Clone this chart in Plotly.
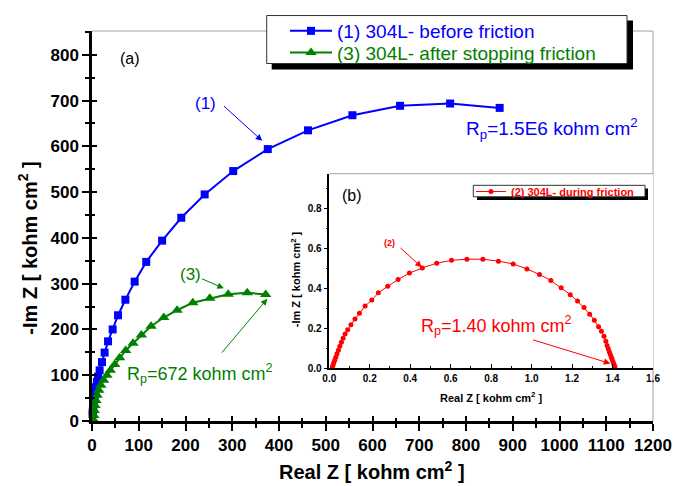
import plotly.graph_objects as go

# ---- data ----
s1_name = "(1) 304L- before friction"
s1_x = [1.3, 1.7, 2.2, 2.8, 3.5, 4.5, 5.5, 7, 8.5, 10.5, 12.9, 16.3, 21.4, 27, 34.3, 44.2, 55.7, 71.4,
        91.3, 116, 150, 191, 241, 302, 376, 462, 557, 659, 766, 872]
s1_y = [16, 21, 27, 33, 40, 47, 55, 64, 74, 85, 97, 110.7, 128.6, 149.5, 174, 200, 231, 265,
        304.5, 347.6, 394, 444, 495, 546, 594, 635, 668, 688.6, 693.6, 684]

s3_name = "(3) 304L- after stopping friction"
s3_x = [3.5, 4, 5, 6.5, 8.5, 11, 14.5, 19, 25, 32, 39.2, 48.5, 59.2, 72, 87.8, 105.6, 126.4, 153.5,
        182, 215.6, 252, 291.4, 332, 371.5]
s3_y = [2, 12, 23, 34, 45, 56, 67, 78, 89, 100, 110.7, 123.6, 138, 154, 170, 188, 207, 226,
        242, 258.5, 268, 277, 280, 276.5]

s2_name = "(2) 304L- during friction"
s2_x = [0.015, 0.018, 0.022, 0.027, 0.032, 0.038, 0.045, 0.052, 0.06, 0.068, 0.078, 0.091, 0.107,
        0.127, 0.149, 0.177, 0.21, 0.2425, 0.289, 0.340, 0.396, 0.460, 0.531, 0.604, 0.680, 0.759,
        0.836, 0.909, 0.977, 1.039, 1.095, 1.146, 1.191, 1.227, 1.259, 1.287, 1.310, 1.331, 1.345,
        1.358, 1.367, 1.373, 1.379, 1.384, 1.389, 1.394, 1.398, 1.402, 1.406, 1.409, 1.412]
s2_y = [0.005, 0.015, 0.027, 0.04, 0.055, 0.072, 0.09, 0.11, 0.13, 0.15, 0.171, 0.193, 0.218,
        0.246, 0.275, 0.312, 0.342, 0.378, 0.411, 0.445, 0.477, 0.503, 0.527, 0.541, 0.547, 0.547,
        0.537, 0.523, 0.498, 0.470, 0.440, 0.404, 0.369, 0.337, 0.304, 0.271, 0.240, 0.208, 0.185,
        0.16, 0.135, 0.113, 0.097, 0.082, 0.068, 0.055, 0.043, 0.032, 0.022, 0.013, 0.005]

main_x_range = [0, 1200]
main_y_range = [0, 852]
inset_x_range = [0, 1.6]
inset_y_range = [0, 0.976]

FONT = "Arial, Liberation Sans, sans-serif"
BLUE = "#0000FF"
GREEN = "#008000"
RED = "#FF0000"

fig = go.Figure()
fig.add_trace(go.Scatter(x=s1_x, y=s1_y, name=s1_name, mode="lines+markers",
                         line=dict(color=BLUE, width=2),
                         marker=dict(symbol="square", size=8, color=BLUE),
                         legend="legend", cliponaxis=False))
fig.add_trace(go.Scatter(x=s3_x, y=s3_y, name=s3_name, mode="lines+markers",
                         line=dict(color=GREEN, width=2),
                         marker=dict(symbol="triangle-up", size=10, color=GREEN),
                         legend="legend3", cliponaxis=False))
fig.add_trace(go.Scatter(x=s2_x, y=s2_y, name=s2_name, mode="lines+markers",
                         line=dict(color=RED, width=1),
                         marker=dict(symbol="circle", size=5, color=RED),
                         xaxis="x2", yaxis="y2", legend="legend2", cliponaxis=False))
fig.add_trace(go.Scatter(x=[], y=[], xaxis="x3", yaxis="y3", showlegend=False, hoverinfo="skip"))

tickfont_main = dict(family=FONT, size=17, color="black", weight="bold")
tickfont_inset = dict(family=FONT, size=10, color="black", weight="bold")


def px2paper(px, py):
    return (px - 92) / 561, (421 - py) / 396


fig.update_layout(
    width=689, height=486,
    margin=dict(l=92, r=36, t=25, b=65),
    paper_bgcolor="white", plot_bgcolor="white",
    font=dict(family=FONT, color="black"),
    xaxis=dict(domain=[0, 1], range=main_x_range, anchor="y", showline=True, linecolor="black",
               linewidth=2.5, ticks="outside", ticklen=7, tickwidth=2, tickcolor="black",
               tick0=0, dtick=100, minor=dict(dtick=50, ticks="outside", ticklen=4, tickwidth=2,
                                               tickcolor="black"),
               showgrid=False, zeroline=False, tickfont=tickfont_main),
    yaxis=dict(domain=[0, 1], range=main_y_range, anchor="x", showline=True, linecolor="black",
               linewidth=2.5, ticks="outside", ticklen=7, tickwidth=2, tickcolor="black",
               tick0=0, dtick=100, minor=dict(dtick=50, ticks="outside", ticklen=4, tickwidth=2,
                                               tickcolor="black"),
               showgrid=False, zeroline=False, tickfont=tickfont_main),
    xaxis3=dict(overlaying="x", anchor="y3", range=main_x_range, showline=False,
                ticks="inside", ticklen=5, tickwidth=2, tickcolor="black", tick0=0, dtick=100,
                minor=dict(dtick=50, ticks="inside", ticklen=3, tickwidth=2, tickcolor="black"),
                showticklabels=False, showgrid=False, zeroline=False),
    yaxis3=dict(overlaying="y", anchor="x3", range=main_y_range, showline=False,
                ticks="inside", ticklen=5, tickwidth=2, tickcolor="black", tick0=0, dtick=100,
                minor=dict(dtick=50, ticks="inside", ticklen=3, tickwidth=2, tickcolor="black"),
                showticklabels=False, showgrid=False, zeroline=False),
    xaxis2=dict(domain=[0.423, 1.0], range=inset_x_range, anchor="y2", showline=True,
                linecolor="black", linewidth=1.5, ticks="inside", ticklen=4, tickwidth=1.2,
                tickcolor="black", tick0=0, dtick=0.2, tickformat=".1f",
                minor=dict(dtick=0.1, ticks="inside", ticklen=2, tickwidth=1.2, tickcolor="black"),
                showgrid=False, zeroline=False, tickfont=tickfont_inset),
    yaxis2=dict(domain=[0.1356, 0.634], range=inset_y_range, anchor="x2", showline=True,
                linecolor="black", linewidth=1.5, ticks="outside", ticklen=4, tickwidth=1.2,
                tickcolor="black", tick0=0, dtick=0.2, tickformat=".1f",
                minor=dict(dtick=0.1, ticks="outside", ticklen=2, tickwidth=1.2, tickcolor="black"),
                showgrid=False, zeroline=False, tickfont=tickfont_inset),
    legend=dict(x=px2paper(285, 0)[0], y=px2paper(0, 25)[1], xanchor="left", yanchor="middle",
                bgcolor="rgba(0,0,0,0)", borderwidth=0, itemwidth=42,
                font=dict(family=FONT, size=19, color=BLUE)),
    legend3=dict(x=px2paper(285, 0)[0], y=px2paper(0, 47)[1], xanchor="left", yanchor="middle",
                 bgcolor="rgba(0,0,0,0)", borderwidth=0, itemwidth=42,
                 font=dict(family=FONT, size=19, color=GREEN)),
    legend2=dict(x=px2paper(471, 0)[0], y=px2paper(0, 188)[1], xanchor="left", yanchor="middle",
                 bgcolor="rgba(0,0,0,0)", borderwidth=0, itemwidth=30,
                 font=dict(family=FONT, size=11, weight="bold", color=RED)),
    showlegend=True,
)

# ---- shapes: frames, legend boxes ----
shapes = []
GRAY = "#a0a0a0"
shapes.append(dict(type="line", xref="paper", yref="paper", x0=0, x1=1, y0=1, y1=1,
                   line=dict(color=GRAY, width=1), layer="below"))
shapes.append(dict(type="line", xref="paper", yref="paper", x0=1, x1=1, y0=0, y1=1,
                   line=dict(color=GRAY, width=1), layer="below"))
shapes.append(dict(type="line", xref="paper", yref="paper", x0=0.423, x1=1, y0=0.634, y1=0.634,
                   line=dict(color=GRAY, width=1)))


def box(xa, ya, xb, yb, fill, border):
    x0, y0 = px2paper(xa, ya)
    x1, y1 = px2paper(xb, yb)
    ln = dict(color="#333333", width=1) if border else dict(width=0)
    return dict(type="rect", xref="paper", yref="paper", x0=x0, x1=x1, y0=y1, y1=y0,
                fillcolor=fill, line=ln)


shapes.append(box(271.7, 14.3, 633, 64, "black", False))
shapes.append(box(266.7, 9.3, 627, 58, "white", True))
shapes.append(box(477, 185, 648, 196.5, "black", False))
shapes.append(box(473.3, 181.7, 645, 193.3, "white", True))
fig.update_layout(shapes=shapes)

# ---- annotations ----
ann = []
ann.append(dict(xref="paper", yref="paper", x=px2paper(372, 0)[0], y=px2paper(0, 471.7)[1],
                text="Real Z [ kohm cm<sup>2</sup> ]", showarrow=False, xanchor="center",
                yanchor="middle", font=dict(family=FONT, size=20, weight="bold", color="black")))
ann.append(dict(xref="paper", yref="paper", x=px2paper(28, 0)[0], y=px2paper(0, 246)[1],
                text="-Im Z [ kohm cm<sup>2</sup> ]", showarrow=False, textangle=-90,
                xanchor="center", yanchor="middle",
                font=dict(family=FONT, size=20, weight="bold", color="black")))
ann.append(dict(xref="paper", yref="paper", x=px2paper(491, 0)[0], y=px2paper(0, 396.7)[1],
                text="Real Z [ kohm cm<sup>2</sup> ]", showarrow=False, xanchor="center",
                yanchor="middle", font=dict(family=FONT, size=11, weight="bold", color="black")))
ann.append(dict(xref="paper", yref="paper", x=px2paper(296, 0)[0], y=px2paper(0, 277)[1],
                text="-Im Z [ kohm cm<sup>2</sup> ]", showarrow=False, textangle=-90,
                xanchor="center", yanchor="middle",
                font=dict(family=FONT, size=11, weight="bold", color="black")))
ann.append(dict(xref="x", yref="y", x=82, y=792, text="(a)", showarrow=False,
                font=dict(family=FONT, size=16, color="black")))
ann.append(dict(xref="x", yref="y", x=243, y=693, text="(1)", showarrow=False,
                font=dict(family=FONT, size=17, color=BLUE)))
ann.append(dict(xref="x", yref="y", x=985, y=640,
                text="R<sub>p</sub>=1.5E6 kohm cm<sup>2</sup>", showarrow=False,
                font=dict(family=FONT, size=19, color=BLUE)))
ann.append(dict(xref="x", yref="y", x=210, y=321, text="(3)", showarrow=False,
                font=dict(family=FONT, size=17, color=GREEN)))
ann.append(dict(xref="x", yref="y", x=230, y=103,
                text="R<sub>p</sub>=672 kohm cm<sup>2</sup>", showarrow=False,
                font=dict(family=FONT, size=18, color=GREEN)))
ann.append(dict(xref="x2", yref="y2", x=0.111, y=0.869, text="(b)", showarrow=False,
                font=dict(family=FONT, size=16, color="black")))
ann.append(dict(xref="x2", yref="y2", x=0.300, y=0.630, text="(2)", showarrow=False,
                font=dict(family=FONT, size=9, color=RED, weight="bold")))
ann.append(dict(xref="x2", yref="y2", x=0.824, y=0.215,
                text="R<sub>p</sub>=1.40 kohm cm<sup>2</sup>", showarrow=False,
                font=dict(family=FONT, size=18, color=RED)))


def arrow(xr, yr, hx, hy, tx, ty, color):
    return dict(xref=xr, yref=yr, axref=xr, ayref=yr, x=hx, y=hy, ax=tx, ay=ty, text="",
                showarrow=True, arrowhead=2, arrowsize=1.3, arrowwidth=1, arrowcolor=color)


ann.append(arrow("x", "y", 364, 612, 279, 691, BLUE))
ann.append(arrow("x", "y", 282, 290, 232, 312, GREEN))
ann.append(arrow("x", "y", 375, 267, 275, 146, GREEN))
ann.append(arrow("x2", "y2", 0.457, 0.506, 0.345, 0.610, RED))
ann.append(arrow("x2", "y2", 1.389, 0.023, 1.0, 0.144, RED))
fig.update_layout(annotations=ann)

fig.write_html("out.html", config={"displayModeBar": False},
               post_script="document.body.style.margin='0';")
